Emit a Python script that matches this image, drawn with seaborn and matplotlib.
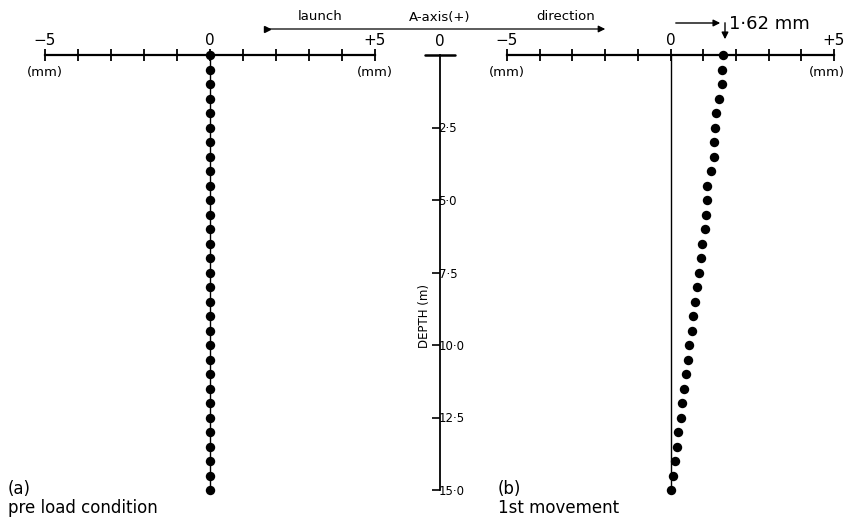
import numpy as np
import pandas as pd
import matplotlib
matplotlib.use("Agg")
import matplotlib.pyplot as plt
import seaborn as sns

# ---- data ----
depth_m = [i * 0.5 for i in range(31)]  # 0.0 .. 15.0 m
disp_preload_mm = [0.0] * 31
disp_first_mm = [1.62, 1.59, 1.56, 1.47, 1.38, 1.36, 1.34, 1.32, 1.24, 1.12, 1.12,
                 1.10, 1.06, 0.96, 0.94, 0.86, 0.80, 0.76, 0.70, 0.66, 0.58, 0.52,
                 0.46, 0.40, 0.36, 0.32, 0.24, 0.20, 0.14, 0.08, 0.0]
x_ticks = [-5, -4, -3, -2, -1, 0, 1, 2, 3, 4, 5]
x_ticklabels = ["−5", "", "", "", "", "0", "", "", "", "", "+5"]
depth_ticks = [2.5, 5.0, 7.5, 10.0, 12.5, 15.0]
depth_ticklabels = ["2·5", "5·0", "7·5", "10·0", "12·5", "15·0"]

sns.set_theme(style="white")
plt.rcParams["font.family"] = ["DejaVu Sans"]
plt.rcParams["text.color"] = "black"
plt.rcParams["xtick.color"] = "black"
plt.rcParams["ytick.color"] = "black"

W, H = 846, 523
fig = plt.figure(figsize=(W / 100, H / 100), dpi=100)
fig.patch.set_facecolor("white")

y_top, y_bot = 55, 490
def pos(x0, x1):
    return [x0 / W, (H - y_bot) / H, (x1 - x0) / W, (y_bot - y_top) / H]

df_a = pd.DataFrame({"depth": depth_m, "disp": disp_preload_mm})
df_b = pd.DataFrame({"depth": depth_m, "disp": disp_first_mm})

def panel(ax, df, right_edge=False):
    ax.set_facecolor("none")
    ax.set_xlim(-5, 5)
    ax.set_ylim(15, 0)
    ax.plot([0, 0], [0, 15], color="black", lw=1.0, zorder=1)
    sns.scatterplot(data=df, x="disp", y="depth", ax=ax, color="black", s=46,
                    linewidth=0, legend=False, zorder=3, clip_on=False)
    for s in ["left", "right", "bottom"]:
        ax.spines[s].set_visible(False)
    ax.spines["top"].set_linewidth(1.6)
    ax.spines["top"].set_color("black")
    ax.xaxis.tick_top()
    ax.set_xticks(x_ticks)
    ax.set_xticklabels(x_ticklabels, fontsize=11)
    ax.tick_params(axis="x", direction="inout", length=9, width=1.3, pad=0.5,
                   colors="black", labelcolor="black")
    ax.set_yticks([])
    ax.set_xlabel("")
    ax.set_ylabel("")
    ax.text(-5, 0.6, "(mm)", ha="center", va="center", fontsize=9.5, clip_on=False)
    if right_edge:
        ax.text(5.33, 0.6, "(mm)", ha="right", va="center", fontsize=9.5, clip_on=False)
    else:
        ax.text(5, 0.6, "(mm)", ha="center", va="center", fontsize=9.5, clip_on=False)

ax_a = fig.add_axes(pos(45, 375))
panel(ax_a, df_a)
ax_b = fig.add_axes(pos(507, 834))
panel(ax_b, df_b, right_edge=True)

# central depth axis
ax_c = fig.add_axes(pos(400, 480))
ax_c.set_facecolor("none")
ax_c.set_xlim(-1, 1)
ax_c.set_ylim(15, 0)
for s in ["left", "top", "bottom"]:
    ax_c.spines[s].set_visible(False)
ax_c.spines["right"].set_position(("data", 0))
ax_c.spines["right"].set_linewidth(1.3)
ax_c.spines["right"].set_color("black")
ax_c.yaxis.tick_right()
ax_c.set_yticks(depth_ticks)
ax_c.set_yticklabels(depth_ticklabels, fontsize=8.5)
ax_c.tick_params(axis="y", direction="in", length=6, width=1.2, pad=-1,
                 colors="black", labelcolor="black")
ax_c.set_xticks([])
ax_c.plot([-0.37, 0.37], [0, 0], color="black", lw=1.8, clip_on=False)
ax_c.text(0, -0.2, "0", ha="center", va="bottom", fontsize=11)
ax_c.text(-0.38, 9.0, "DEPTH (m)", rotation=90, ha="center", va="center", fontsize=8.5)

# direction annotation
fig.text(320 / W, 1 - 17 / H, "launch", ha="center", va="center", fontsize=9.5)
fig.text(440 / W, 1 - 17 / H, "A-axis(+)", ha="center", va="center", fontsize=9.5)
fig.text(566 / W, 1 - 17 / H, "direction", ha="center", va="center", fontsize=9.5)
fig.add_artist(matplotlib.patches.FancyArrowPatch(
    (265 / W, 1 - 29 / H), (608 / W, 1 - 29 / H), transform=fig.transFigure,
    arrowstyle="-|>", mutation_scale=10, color="black", lw=0.9))
fig.add_artist(matplotlib.lines.Line2D([267 / W], [1 - 29 / H], marker=">",
               markersize=4, color="black", transform=fig.transFigure))

# 1.62 mm annotation
fig.add_artist(matplotlib.patches.FancyArrowPatch(
    (673 / W, 1 - 23 / H), (723 / W, 1 - 23 / H), transform=fig.transFigure,
    arrowstyle="-|>", mutation_scale=10, color="black", lw=1.0))
fig.add_artist(matplotlib.patches.FancyArrowPatch(
    (725 / W, 1 - 20 / H), (725 / W, 1 - 42 / H), transform=fig.transFigure,
    arrowstyle="-|>", mutation_scale=10, color="black", lw=1.0))
fig.text(729 / W, 1 - 24 / H, "1·62 mm", ha="left", va="center", fontsize=13)

# panel captions
fig.text(8 / W, 1 - 489 / H, "(a)", ha="left", va="center", fontsize=12)
fig.text(8 / W, 1 - 508 / H, "pre load condition", ha="left", va="center", fontsize=12)
fig.text(498 / W, 1 - 489 / H, "(b)", ha="left", va="center", fontsize=12)
fig.text(498 / W, 1 - 508 / H, "1st movement", ha="left", va="center", fontsize=12)

fig.savefig("out.png", dpi=100, facecolor="white")
